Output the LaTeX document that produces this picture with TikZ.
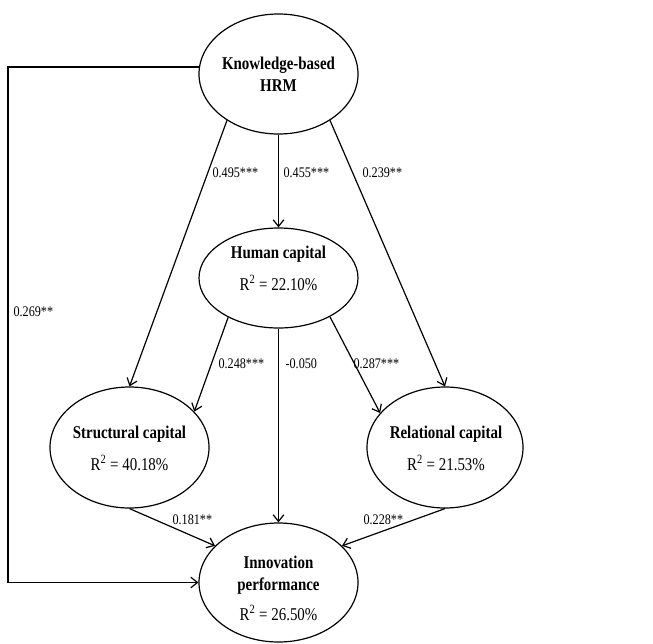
\documentclass[tikz,border=0pt]{standalone}
\usepackage{fontspec}
\setmainfont[FakeStretch=0.83]{Liberation Serif}
\usetikzlibrary{shapes.geometric,arrows.meta}

\begin{document}
\begin{tikzpicture}[x=0.75pt,y=-0.75pt,line width=0.9pt,
	ell/.style={draw,ellipse,inner sep=0pt},
	ttl/.style={align=center,font=\fontsize{13.5}{16.5}\selectfont},
	coef/.style={anchor=base west,inner sep=0pt,font=\fontsize{11}{13}\selectfont},
	arr/.style={-{Straight Barb[length=5pt,width=8pt]}}]
	\useasboundingbox (0,0) rectangle (653,643);
	% constructs
	\node[ell,minimum width=119.25pt,minimum height=90pt] (hrm) at (278.5,74) {};
	\node[ell,minimum width=119.25pt,minimum height=75pt] (hc) at (278.5,278) {};
	\node[ell,minimum width=119.25pt,minimum height=90.75pt] (sc) at (129.5,447.5) {};
	\node[ell,minimum width=117pt,minimum height=90.75pt] (rc) at (445,447.5) {};
	\node[ell,minimum width=119.25pt,minimum height=89.25pt] (ip) at (278.5,582.5) {};
	\node[ttl] (hrm-t) at (hrm) {\textbf{Knowledge-based}\\\textbf{HRM}};
	\node[ttl] (hc-t) at (278.5,268) {\textbf{Human capital}\\[7.5pt]R\textsuperscript{2} = 22.10\%};
	\node[ttl] (sc-t) at (129.5,448) {\textbf{Structural capital}\\[7.5pt]R\textsuperscript{2} = 40.18\%};
	\node[ttl] (rc-t) at (446,448) {\textbf{Relational capital}\\[7.5pt]R\textsuperscript{2} = 21.53\%};
	\node[ttl] (ip-t) at (278.5,588) {\textbf{Innovation}\\\textbf{performance}\\[6pt]R\textsuperscript{2} = 26.50\%};
	% paths
	\draw[arr] (hrm.222) -- (sc.north);
	\draw[arr] (hrm.south) -- (hc.north);
	\draw[arr] (hrm.318) -- (rc.north);
	\draw[arr] (hc.218) -- (sc.29);
	\draw[arr] (hc.south) -- (ip.north);
	\draw[arr] (hc.323) -- (rc.152);
	\draw[arr] (sc.south) -- (ip.150);
	\draw[arr] (rc.south) -- (ip.30);
	\coordinate (lft) at (8,69);
	\draw[arr] (hrm.175) -- (hrm.175 -| lft) |- (ip.west);
	% coefficients
	\node[coef] (b1) at (212,177) {0.495***};
	\node[coef] (b2) at (283,177) {0.455***};
	\node[coef] (b3) at (362,177) {0.239**};
	\node[coef] (b4) at (13,316) {0.269**};
	\node[coef] (b5) at (218,368) {0.248***};
	\node[coef] (b6) at (285,368) {-0.050};
	\node[coef] (b7) at (353,368) {0.287***};
	\node[coef] (b8) at (172,524) {0.181**};
	\node[coef] (b9) at (363,524) {0.228**};
\end{tikzpicture}
\end{document}
